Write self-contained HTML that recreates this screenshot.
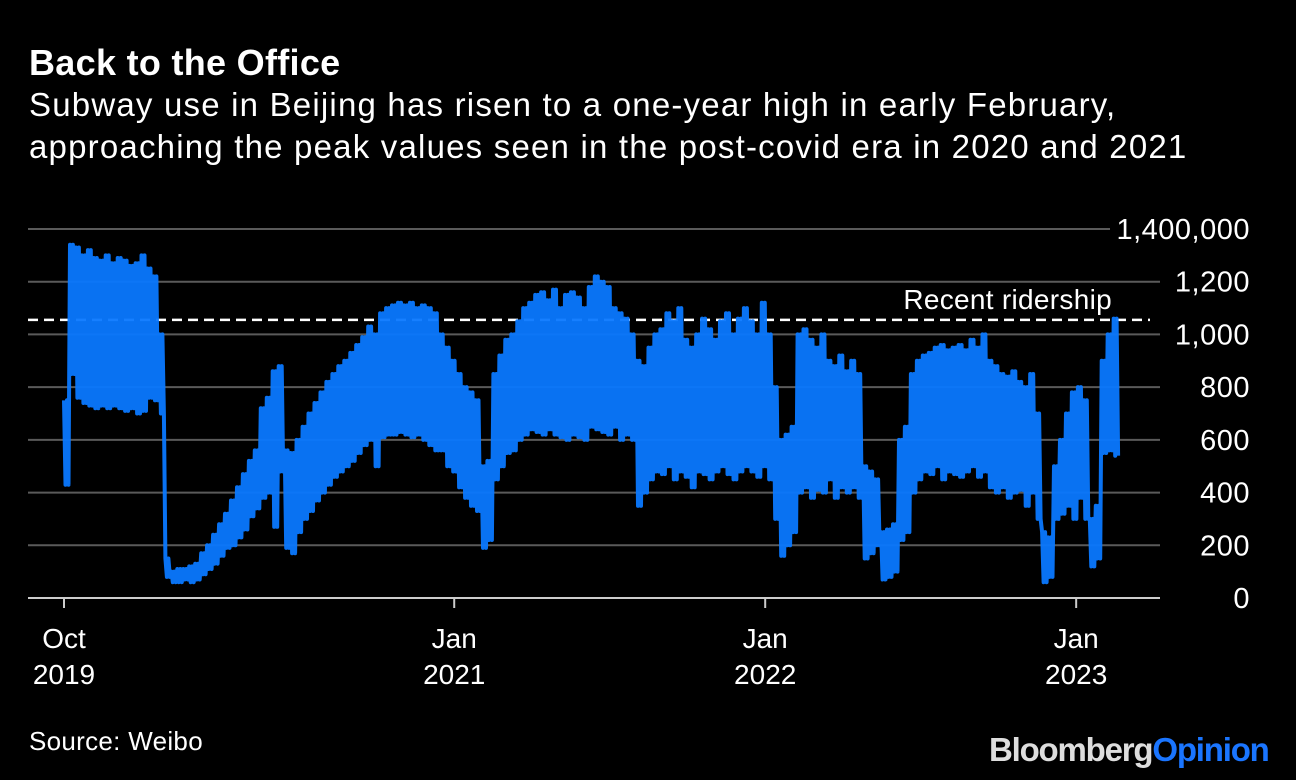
<!DOCTYPE html>
<html><head><meta charset="utf-8"><style>
html,body{margin:0;padding:0;background:#000;}
body{width:1296px;height:780px;overflow:hidden;position:relative;font-family:"Liberation Sans",Arial,sans-serif;color:#fff;}
.t{position:absolute;white-space:nowrap;}
</style></head><body>
<div class="t" style="left:29px;top:42px;font-size:36px;font-weight:bold;letter-spacing:0.3px;">Back to the Office</div>
<div class="t" style="left:29px;top:84px;font-size:33px;line-height:42px;letter-spacing:1.2px;">Subway use in Beijing has risen to a one-year high in early February,<br>approaching the peak values seen in the post-covid era in 2020 and 2021</div>
<svg id="chart" width="1296" height="780" style="position:absolute;left:0;top:0;"></svg>
<div class="t" style="left:29px;top:726px;font-size:26px;letter-spacing:0.3px;">Source: Weibo</div>
<div class="t" style="left:989px;top:731px;font-size:33px;font-weight:bold;letter-spacing:-1.2px;"><span style="color:#ddd">Bloomberg</span><span style="color:#1a75ff">Opinion</span></div>
<script>
const yTicks=[0,200000,400000,600000,800000,1000000,1200000,1400000];
const yTickLabels=["0","200","400","600","800","1,000","1,200","1,400,000"];
const xTickDays=[0,458,823,1188];
const xTickLabels1=["Oct","Jan","Jan","Jan"];
const xTickLabels2=["2019","2021","2022","2023"];
const recentRidership=1055000;
// weekly weekday-high / weekend-low ridership in thousands, weeks starting Oct 1 2019
const weekHigh=[750,1340,1330,1300,1320,1290,1280,1300,1270,1290,1280,1260,1270,1300,1250,1220,1000,150,100,110,110,120,130,170,200,240,280,320,370,420,470,520,560,720,760,860,880,560,550,600,650,700,740,780,820,850,880,900,930,960,990,1030,1000,1080,1100,1110,1120,1110,1120,1100,1110,1100,1080,1000,950,900,850,800,780,750,500,520,850,920,980,1000,1050,1100,1120,1150,1160,1130,1170,1100,1150,1160,1140,1100,1180,1220,1200,1180,1100,1080,1060,1000,900,880,950,1000,1020,1080,1050,1100,980,950,1000,1060,1020,980,1050,1080,1000,1060,1100,1050,1000,1120,1000,800,600,620,650,1000,1020,980,950,1000,900,880,920,860,900,850,500,480,450,250,260,280,600,650,850,900,920,930,950,960,940,950,960,940,980,950,1000,900,880,850,840,860,820,800,850,700,250,230,500,600,700,780,800,750,300,350,900,1000,1060];
const weekLow=[430,850,760,740,730,720,730,720,730,720,710,720,700,710,760,750,700,80,60,60,70,60,70,90,110,130,160,190,200,230,260,310,340,380,400,270,480,190,170,250,300,330,370,400,430,460,480,500,520,550,580,600,500,610,620,620,630,620,610,620,600,580,560,560,500,480,420,380,350,330,190,220,450,500,550,560,600,620,640,630,620,640,620,610,600,620,610,600,650,640,630,620,650,600,620,600,350,400,450,480,470,500,450,480,460,420,480,470,450,480,500,470,450,480,500,480,460,500,450,300,160,200,250,400,420,380,410,400,450,380,420,400,420,380,150,170,200,70,80,100,220,250,400,450,480,470,500,450,480,470,460,480,500,460,480,420,400,420,380,400,410,350,400,300,60,80,300,320,350,300,380,300,120,150,550,560,540];

const NS="http://www.w3.org/2000/svg";
const svg=document.getElementById('chart');
const x0=64,pxPerDay=0.852,y0=598,pxPerUnit=(598-229)/1400000;
const xs=d=>x0+d*pxPerDay;
const ys=v=>y0-v*pxPerUnit;
const FF='Liberation Sans, Arial, sans-serif';
function mk(tag,attrs){const e=document.createElementNS(NS,tag);for(const k in attrs)e.setAttribute(k,attrs[k]);svg.appendChild(e);return e;}
yTicks.forEach((v,i)=>{
  if(i>0){const g=mk('line',{x1:28,x2:i==yTicks.length-1?1110:1160,y1:ys(v),y2:ys(v),stroke:'#5a5a5a','stroke-width':2});
  
  }
  const t=mk('text',{x:1250,y:ys(v)+10,'text-anchor':'end',fill:'#fff','font-size':29,'letter-spacing':0.5,'font-family':FF});
  t.textContent=yTickLabels[i];
  
  
});
const ax=mk('line',{x1:28,x2:1160,y1:y0,y2:y0,stroke:'#ccc','stroke-width':2});


xTickDays.forEach((d,i)=>{
  const tk=mk('line',{x1:xs(d),x2:xs(d),y1:y0,y2:y0+10,stroke:'#ccc','stroke-width':2});
  
  
  const t1=mk('text',{x:xs(d),y:648,'text-anchor':'middle',fill:'#fff','font-size':28,'font-family':FF});
  t1.textContent=xTickLabels1[i];
  
  
  const t2=mk('text',{x:xs(d),y:684,'text-anchor':'middle',fill:'#fff','font-size':28,'font-family':FF});
  t2.textContent=xTickLabels2[i];
  
  
});
const dl=mk('line',{x1:28,x2:1150,y1:ys(recentRidership),y2:ys(recentRidership),stroke:'#fff','stroke-width':2.5,'stroke-dasharray':'10,6'});


let pts=[];
weekHigh.forEach((h,k)=>{
  const l=weekLow[k];
  pts.push([xs(7*k),ys(h*1000)],[xs(7*k+1.75),ys(l*1000)],[xs(7*k+3.5),ys(h*1000)],[xs(7*k+5.25),ys(l*1000)]);
});
const ln=mk('polyline',{points:pts.map(p=>p[0].toFixed(1)+','+p[1].toFixed(1)).join(' '),fill:'none',stroke:'#0a78ff','stroke-width':4,'stroke-linejoin':'round','stroke-opacity':0.95});


const rl=mk('text',{x:1112,y:ys(recentRidership)-11,'text-anchor':'end',fill:'#fff','font-size':28,'letter-spacing':0.3,'font-family':FF});
rl.textContent='Recent ridership';


</script>
</body></html>
